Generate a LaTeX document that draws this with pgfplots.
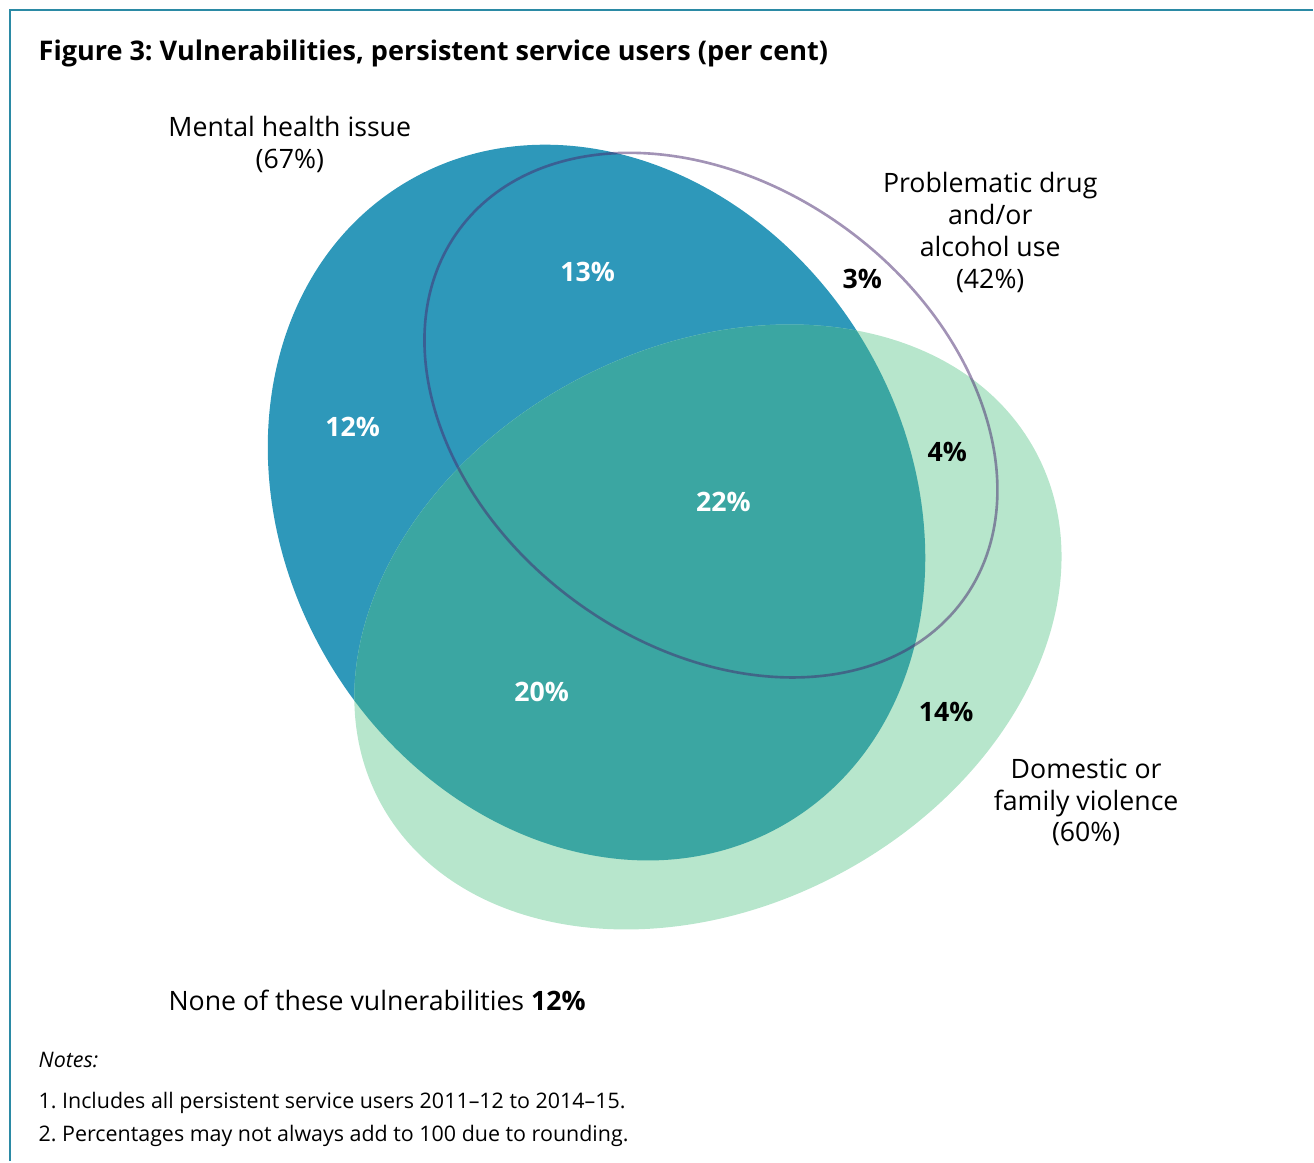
\documentclass[border=0pt]{standalone}
\usepackage{pgfplots}
\pgfplotsset{compat=1.18}
\usepackage{fontspec}
\setmainfont{Open Sans}
\definecolor{bluec}{RGB}{46,152,186}
\definecolor{greenc}{RGB}{183,230,204}
\definecolor{tealc}{RGB}{59,166,162}
\definecolor{framec}{RGB}{43,138,165}
\definecolor{purpc}{RGB}{70,40,110}
\frenchspacing
\begin{document}
\begin{tikzpicture}
\begin{axis}[scale only axis, width=13.14cm, height=11.62cm,
  xmin=0, xmax=1314, ymin=0, ymax=1162, hide axis, clip=false,
  /pgf/number format/assume math mode=true]
% bounding box
\path (axis cs:0,0) rectangle (axis cs:1314,1162);
% frame
\draw[framec, line width=0.6pt] (axis cs:10,0) -- (axis cs:10,1152) -- (axis cs:1314,1152);
% Mental health (blue)
\fill[bluec] (axis cs:597,659) ellipse [x radius=3.12cm, y radius=3.73cm, rotate=30.7];
% Domestic violence (green)
\fill[greenc] (axis cs:708.5,534.5) ellipse [x radius=3.72cm, y radius=2.80cm, rotate=28];
% overlap
\begin{scope}
\clip (axis cs:597,659) ellipse [x radius=3.12cm, y radius=3.73cm, rotate=30.7];
\fill[tealc] (axis cs:708.5,534.5) ellipse [x radius=3.72cm, y radius=2.80cm, rotate=28];
\end{scope}
% drug/alcohol outline
\draw[purpc, draw opacity=0.5, line width=0.75pt] (axis cs:711.5,746.5) ellipse [x radius=3.13cm, y radius=2.305cm, rotate=-36.4];
% percentage labels
\addplot[only marks, mark=none, nodes near coords, point meta=explicit symbolic,
  nodes near coords align=center,
  every node near coord/.append style={white, font=\fontsize{7.6}{9}\selectfont\bfseries, anchor=center}]
  table[meta=label] {
x y label
588 890 13\%
353 735 12\%
724 660 22\%
542 469 20\%
};
\addplot[only marks, mark=none, nodes near coords, point meta=explicit symbolic,
  nodes near coords align=center,
  every node near coord/.append style={black, font=\fontsize{7.6}{9}\selectfont\bfseries, anchor=center}]
  table[meta=label] {
x y label
863 883 3\%
948 710 4\%
947 449 14\%
};
% set labels
\node[align=center, font=\fontsize{7.6}{9.1}\selectfont] at (axis cs:290,1017.5) {Mental health issue\\(67\%)};
\node[align=center, font=\fontsize{7.6}{9.1}\selectfont] at (axis cs:991,929) {Problematic drug\\and/or\\alcohol use\\(42\%)};
\node[align=center, font=\fontsize{7.6}{9.1}\selectfont] at (axis cs:1087,359) {Domestic or\\family violence\\(60\%)};
\node[anchor=west, inner sep=0pt, font=\fontsize{7.6}{9.1}\selectfont] at (axis cs:168,161) {None of these vulnerabilities \textbf{12\%}};
% title
\node[anchor=west, inner sep=0pt, font=\fontsize{7.7}{10}\selectfont\bfseries] at (axis cs:38,1108) {Figure 3: Vulnerabilities, persistent service users (per cent)};
% notes
\node[anchor=west, inner sep=0pt, font=\fontsize{6.1}{7}\selectfont\itshape] at (axis cs:38,101) {Notes:};
\node[anchor=west, inner sep=0pt, font=\fontsize{6.1}{7}\selectfont] at (axis cs:38,58) {1. Includes all persistent service users 2011–12 to 2014–15.};
\node[anchor=west, inner sep=0pt, font=\fontsize{6.1}{7}\selectfont] at (axis cs:38,25) {2. Percentages may not always add to 100 due to rounding.};
\end{axis}
\end{tikzpicture}
\end{document}
